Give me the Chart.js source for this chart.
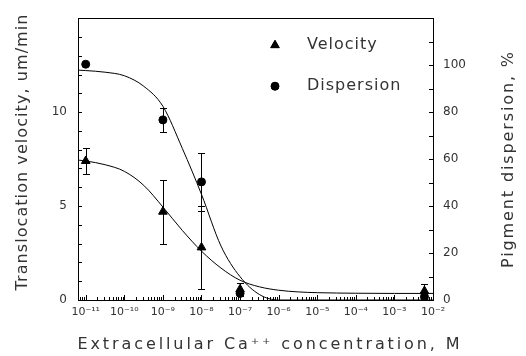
<!DOCTYPE html>
<html><head><meta charset="utf-8">
<script src="https://cdn.jsdelivr.net/npm/chart.js@4/dist/chart.umd.min.js"></script>
<style>html,body{margin:0;padding:0;background:#fff;}#wrap{width:526px;height:356px;}</style>
</head><body><div id="wrap"><canvas id="c" width="526" height="356"></canvas></div>
<script>
// ---- data ----
const concentrations = [1e-11, 1e-9, 1e-8, 1e-7, 6e-3];
const velocity       = [7.4, 4.7, 2.8, 0.57, 0.48];
const velocityErr    = [0.7, 1.7, 2.2, 0.35, 0.35];
const dispersion     = [100.4, 76.7, 50.3, 2.8, 1.4];
const dispersionErr  = [0, 5, 12.2, 0, 0];
const fitX = [6.3e-12, 1e-11, 3.2e-11, 1e-10, 3.2e-10, 1e-9, 3.2e-9, 1e-8, 3.2e-8, 1e-7, 3.2e-7, 1e-6, 3.2e-6, 1e-5, 1e-4, 1e-3, 1e-2];
const velocityFit   = [7.45, 7.4, 7.2, 6.85, 6.1, 4.95, 3.7, 2.6, 1.7, 1.05, 0.7, 0.52, 0.43, 0.39, 0.36, 0.35, 0.35];
const dispersionFit = [97.9, 97.7, 97, 95.5, 91, 82.5, 64.5, 45, 23, 9.9, 2.3, 0, 0, 0, 0, 0, 0];
const xTickLabels = ['10⁻¹¹','10⁻¹⁰','10⁻⁹','10⁻⁸','10⁻⁷','10⁻⁶','10⁻⁵','10⁻⁴','10⁻³','10⁻²'];
const leftTickLabels  = [0, 5, 10];
const rightTickLabels = [0, 20, 40, 60, 80, 100];
const seriesNames = ['Velocity', 'Dispersion'];
const xTitle = 'Extracellular Ca⁺⁺ concentration, M';
const yLeftTitle = 'Translocation velocity, um/min';
const yRightTitle = 'Pigment dispersion, %';

const FONT = '"DejaVu Sans", sans-serif';
const INK = '#000';
const TXT = '#333';

function pts(xs, ys){ return xs.map((x,i)=>({x:x, y:ys[i]})); }
function isDecade(v){ const l=Math.log10(v); return Math.abs(l-Math.round(l))<1e-6; }

const frameTicks = {
  id:'frameTicks',
  afterDraw(chart){
    const ctx=chart.ctx, a=chart.chartArea, s=chart.scales;
    ctx.save();
    ctx.strokeStyle=INK; ctx.lineWidth=1;
    ctx.strokeRect(Math.round(a.left)+0.5, Math.round(a.top)+0.5, Math.round(a.right-a.left), Math.round(a.bottom-a.top));
    ctx.beginPath();
    s.x.ticks.forEach(t=>{
      const px=Math.round(s.x.getPixelForValue(t.value))+0.5;
      const len=isDecade(t.value)?5:3;
      ctx.moveTo(px,a.bottom); ctx.lineTo(px,a.bottom-len);
    });
    s.y.ticks.forEach(t=>{
      const py=Math.round(s.y.getPixelForValue(t.value))+0.5;
      ctx.moveTo(a.left,py); ctx.lineTo(a.left+4,py);
    });
    s.y2.ticks.forEach(t=>{
      const py=Math.round(s.y2.getPixelForValue(t.value))+0.5;
      ctx.moveTo(a.right,py); ctx.lineTo(a.right-4,py);
    });
    ctx.stroke();
    // error bars
    const bars=[[velocity,velocityErr,s.y],[dispersion,dispersionErr,s.y2]];
    ctx.beginPath();
    bars.forEach(([vals,errs,sc])=>{
      vals.forEach((v,i)=>{
        if(!errs[i]) return;
        const px=Math.round(s.x.getPixelForValue(concentrations[i]))+0.5;
        const top=Math.round(sc.getPixelForValue(v+errs[i]))+0.5;
        const bot=Math.round(sc.getPixelForValue(v-errs[i]))+0.5;
        ctx.moveTo(px,top); ctx.lineTo(px,bot);
        ctx.moveTo(px-3.5,top); ctx.lineTo(px+3.5,top);
        ctx.moveTo(px-3.5,bot); ctx.lineTo(px+3.5,bot);
      });
    });
    ctx.stroke();
    // legend
    const lx=a.left+197, ly=[a.top+27,a.top+68];
    const styles=[{pointStyle:'triangle',radius:5,rotation:0,borderWidth:1},{pointStyle:'circle',radius:4,rotation:0,borderWidth:1}];
    ctx.fillStyle=INK;
    styles.forEach((st,i)=>{ Chart.helpers.drawPoint(ctx,st,lx,ly[i]); ctx.fill(); });
    ctx.fillStyle=TXT; ctx.font='16px '+FONT; ctx.textBaseline='middle'; ctx.textAlign='left';
    try{ctx.letterSpacing='1px';}catch(e){}
    seriesNames.forEach((n,i)=>ctx.fillText(n,lx+32,ly[i]));
    // axis titles
    function spaced(text,x,y,rot,target){
      ctx.save(); ctx.translate(x,y); ctx.rotate(rot);
      ctx.font='16px '+FONT; ctx.textAlign='center'; ctx.textBaseline='middle';
      try{ctx.letterSpacing='0px';}catch(e){}
      const w=ctx.measureText(text).width;
      try{ctx.letterSpacing=((target-w)/text.length).toFixed(2)+'px';}catch(e){}
      ctx.fillText(text,0,0); ctx.restore();
    }
    spaced(yLeftTitle,23,152,-Math.PI/2,277);
    spaced(yRightTitle,509,159,-Math.PI/2,218);
    spaced(xTitle,270,345,0,385);
    ctx.restore();
  }
};

new Chart(document.getElementById('c'),{
  type:'scatter',
  data:{datasets:[
    {label:seriesNames[0]+' fit',type:'line',data:pts(fitX,velocityFit),yAxisID:'y',borderColor:INK,borderWidth:1,pointRadius:0,cubicInterpolationMode:'monotone',fill:false,order:2},
    {label:seriesNames[1]+' fit',type:'line',data:pts(fitX,dispersionFit),yAxisID:'y2',borderColor:INK,borderWidth:1,pointRadius:0,cubicInterpolationMode:'monotone',fill:false,order:2},
    {label:seriesNames[0],data:pts(concentrations,velocity),yAxisID:'y',pointStyle:'triangle',pointRadius:5,backgroundColor:INK,borderColor:INK,borderWidth:1,order:1},
    {label:seriesNames[1],data:pts(concentrations,dispersion),yAxisID:'y2',pointStyle:'circle',pointRadius:4,backgroundColor:INK,borderColor:INK,borderWidth:1,order:1}
  ]},
  options:{
    responsive:false,animation:false,
    layout:{padding:{top:10,left:0,right:0,bottom:0}},
    plugins:{legend:{display:false},tooltip:{enabled:false}},
    scales:{
      x:{type:'logarithmic',min:Math.pow(10,-11.2),max:1e-2,
        afterBuildTicks(sc){
          const t=[];
          for(let e=-12;e<=-2;e++){ for(let k=1;k<=9;k++){ const v=k*Math.pow(10,e); if(v>=sc.min*0.999&&v<=sc.max*1.001) t.push({value:v}); } }
          sc.ticks=t;
        },
        afterFit(sc){sc.height=56;},
        grid:{display:false,drawTicks:false},border:{display:false},
        ticks:{autoSkip:false,maxRotation:0,padding:6,color:TXT,font:{family:FONT,size:11},
          callback(v){ return isDecade(v)?xTickLabels[Math.round(Math.log10(v))+11]:''; }}
      },
      y:{position:'left',min:0,max:15,
        afterBuildTicks(sc){ const t=[]; for(let v=0;v<=15;v++) t.push({value:v}); sc.ticks=t; },
        afterFit(sc){sc.width=78;},
        grid:{display:false,drawTicks:false},border:{display:false},
        ticks:{autoSkip:false,padding:11,color:TXT,font:{family:FONT,size:12},
          callback(v){ return leftTickLabels.includes(v)?String(v):''; }}
      },
      y2:{position:'right',min:0,max:120,
        afterBuildTicks(sc){ const t=[]; for(let v=0;v<=120;v+=10) t.push({value:v}); sc.ticks=t; },
        afterFit(sc){sc.width=93;},
        grid:{display:false,drawTicks:false},border:{display:false},
        ticks:{autoSkip:false,padding:10,color:TXT,font:{family:FONT,size:12},
          callback(v){ return rightTickLabels.includes(v)?String(v):''; }}
      }
    }
  },
  plugins:[frameTicks]
});
</script></body></html>
